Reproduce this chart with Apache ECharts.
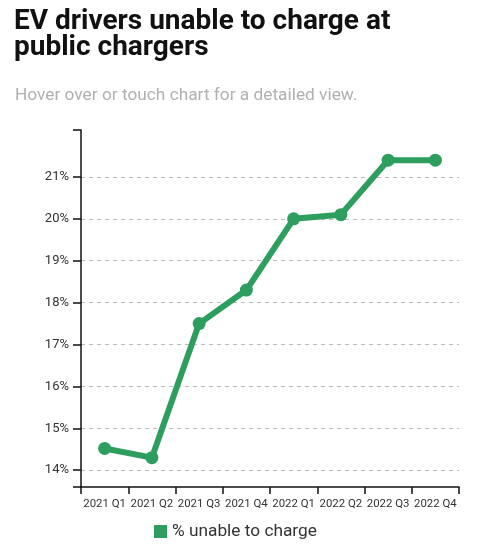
<!DOCTYPE html>
<html>
<head>
<meta charset="utf-8">
<script src="https://cdn.jsdelivr.net/npm/echarts@6/dist/echarts.min.js"></script>
<style>
html,body{margin:0;padding:0;background:#fff;}
#chart{width:493px;height:544px;}
</style>
</head>
<body>
<div id="chart"></div>
<script>
const categories = ['2021 Q1','2021 Q2','2021 Q3','2021 Q4','2022 Q1','2022 Q2','2022 Q3','2022 Q4'];
const unableToCharge = [14.52, 14.3, 17.5, 18.3, 20.0, 20.1, 21.4, 21.4];
const yTickValues = [13.6, 14, 15, 16, 17, 18, 19, 20, 21, 22.12];
const yLabelValues = [14, 15, 16, 17, 18, 19, 20, 21];
const seriesName = '% unable to charge';

const chart = echarts.init(document.getElementById('chart'), null, {renderer:'canvas'});
chart.setOption({
  animation: false,
  backgroundColor: '#fff',
  title: [
    {
      text: 'EV drivers unable to charge at\npublic chargers',
      left: 9, top: 4,
      textStyle: {fontFamily: 'Roboto', fontWeight: 'bold', fontSize: 28, lineHeight: 26, color: '#111'}
    },
    {
      text: 'Hover over or touch chart for a detailed view.',
      left: 10, top: 82,
      textStyle: {fontFamily: 'Roboto', fontWeight: 'normal', fontSize: 17.3, color: '#b0b0b0'}
    }
  ],
  legend: {
    top: 518, left: 149,
    itemWidth: 13, itemHeight: 13, itemGap: 10,
    icon: 'rect',
    textStyle: {fontFamily: 'Roboto', fontSize: 17.3, color: '#333'},
    data: [{name: seriesName, icon: 'rect'}]
  },
  grid: {left: 81, right: 34, top: 130, bottom: 57, containLabel: false},
  xAxis: {
    type: 'category',
    data: categories,
    boundaryGap: true,
    axisLine: {show: true, lineStyle: {color: '#111', width: 1.5}},
    axisTick: {show: true, length: 7, lineStyle: {color: '#111', width: 1.5}, alignWithLabel: false},
    axisLabel: {fontFamily: 'Roboto', fontSize: 11.4, color: '#333', margin: 12, interval: 0},
    splitLine: {show: false}
  },
  yAxis: {
    type: 'value',
    min: 13.6, max: 22.12,
    axisLine: {show: true, lineStyle: {color: '#111', width: 1.5}},
    axisTick: {show: true, length: 8, lineStyle: {color: '#111', width: 1.5}, customValues: yTickValues},
    axisLabel: {fontFamily: 'Roboto', fontSize: 13, color: '#333', margin: 12, customValues: yLabelValues,
      formatter: v => v + '%'},
    splitLine: {show: true, showMinLine: false, showMaxLine: false, lineStyle: {color: '#bbb', type: [4,4], width: 1}}
  },
  series: [{
    name: seriesName,
    type: 'line',
    data: unableToCharge,
    color: '#2e9e5e',
    lineStyle: {width: 6, color: '#2e9e5e'},
    itemStyle: {color: '#2e9e5e'},
    symbol: 'circle', symbolSize: 13,
    showSymbol: true
  }]
});
</script>
</body>
</html>
